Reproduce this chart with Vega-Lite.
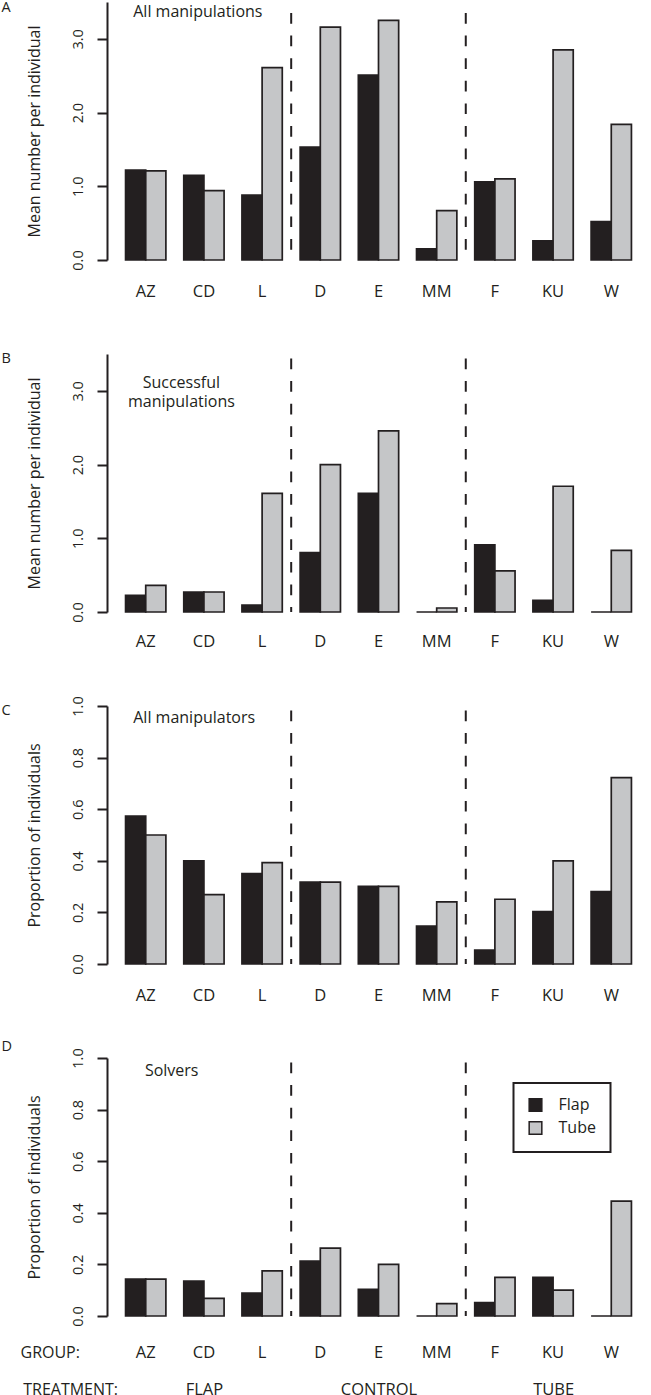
{
  "$schema": "https://vega.github.io/schema/vega-lite/v6.json",
  "padding": {"left": 1, "top": 0, "right": 0, "bottom": 0},
  "background": "white",
  "datasets": {
    "bars": [
      {"panel": "A", "group": "AZ", "type": "Flap", "value": 1.22},
      {"panel": "A", "group": "AZ", "type": "Tube", "value": 1.21},
      {"panel": "A", "group": "CD", "type": "Flap", "value": 1.15},
      {"panel": "A", "group": "CD", "type": "Tube", "value": 0.94},
      {"panel": "A", "group": "L", "type": "Flap", "value": 0.88},
      {"panel": "A", "group": "L", "type": "Tube", "value": 2.61},
      {"panel": "A", "group": "D", "type": "Flap", "value": 1.53},
      {"panel": "A", "group": "D", "type": "Tube", "value": 3.16},
      {"panel": "A", "group": "E", "type": "Flap", "value": 2.51},
      {"panel": "A", "group": "E", "type": "Tube", "value": 3.25},
      {"panel": "A", "group": "MM", "type": "Flap", "value": 0.15},
      {"panel": "A", "group": "MM", "type": "Tube", "value": 0.67},
      {"panel": "A", "group": "F", "type": "Flap", "value": 1.06},
      {"panel": "A", "group": "F", "type": "Tube", "value": 1.10},
      {"panel": "A", "group": "KU", "type": "Flap", "value": 0.26},
      {"panel": "A", "group": "KU", "type": "Tube", "value": 2.85},
      {"panel": "A", "group": "W", "type": "Flap", "value": 0.52},
      {"panel": "A", "group": "W", "type": "Tube", "value": 1.84},
      {"panel": "B", "group": "AZ", "type": "Flap", "value": 0.226},
      {"panel": "B", "group": "AZ", "type": "Tube", "value": 0.362},
      {"panel": "B", "group": "CD", "type": "Flap", "value": 0.271},
      {"panel": "B", "group": "CD", "type": "Tube", "value": 0.271},
      {"panel": "B", "group": "L", "type": "Flap", "value": 0.095},
      {"panel": "B", "group": "L", "type": "Tube", "value": 1.61},
      {"panel": "B", "group": "D", "type": "Flap", "value": 0.805},
      {"panel": "B", "group": "D", "type": "Tube", "value": 2.0},
      {"panel": "B", "group": "E", "type": "Flap", "value": 1.61},
      {"panel": "B", "group": "E", "type": "Tube", "value": 2.457},
      {"panel": "B", "group": "MM", "type": "Flap", "value": 0},
      {"panel": "B", "group": "MM", "type": "Tube", "value": 0.054},
      {"panel": "B", "group": "F", "type": "Flap", "value": 0.91},
      {"panel": "B", "group": "F", "type": "Tube", "value": 0.557},
      {"panel": "B", "group": "KU", "type": "Flap", "value": 0.158},
      {"panel": "B", "group": "KU", "type": "Tube", "value": 1.706},
      {"panel": "B", "group": "W", "type": "Flap", "value": 0},
      {"panel": "B", "group": "W", "type": "Tube", "value": 0.837},
      {"panel": "C", "group": "AZ", "type": "Flap", "value": 0.573},
      {"panel": "C", "group": "AZ", "type": "Tube", "value": 0.5},
      {"panel": "C", "group": "CD", "type": "Flap", "value": 0.4},
      {"panel": "C", "group": "CD", "type": "Tube", "value": 0.269},
      {"panel": "C", "group": "L", "type": "Flap", "value": 0.35},
      {"panel": "C", "group": "L", "type": "Tube", "value": 0.393},
      {"panel": "C", "group": "D", "type": "Flap", "value": 0.317},
      {"panel": "C", "group": "D", "type": "Tube", "value": 0.317},
      {"panel": "C", "group": "E", "type": "Flap", "value": 0.301},
      {"panel": "C", "group": "E", "type": "Tube", "value": 0.301},
      {"panel": "C", "group": "MM", "type": "Flap", "value": 0.147},
      {"panel": "C", "group": "MM", "type": "Tube", "value": 0.241},
      {"panel": "C", "group": "F", "type": "Flap", "value": 0.054},
      {"panel": "C", "group": "F", "type": "Tube", "value": 0.251},
      {"panel": "C", "group": "KU", "type": "Flap", "value": 0.203},
      {"panel": "C", "group": "KU", "type": "Tube", "value": 0.4},
      {"panel": "C", "group": "W", "type": "Flap", "value": 0.281},
      {"panel": "C", "group": "W", "type": "Tube", "value": 0.722},
      {"panel": "D", "group": "AZ", "type": "Flap", "value": 0.143},
      {"panel": "D", "group": "AZ", "type": "Tube", "value": 0.143},
      {"panel": "D", "group": "CD", "type": "Flap", "value": 0.135},
      {"panel": "D", "group": "CD", "type": "Tube", "value": 0.068},
      {"panel": "D", "group": "L", "type": "Flap", "value": 0.089},
      {"panel": "D", "group": "L", "type": "Tube", "value": 0.175},
      {"panel": "D", "group": "D", "type": "Flap", "value": 0.213},
      {"panel": "D", "group": "D", "type": "Tube", "value": 0.263},
      {"panel": "D", "group": "E", "type": "Flap", "value": 0.103},
      {"panel": "D", "group": "E", "type": "Tube", "value": 0.2},
      {"panel": "D", "group": "MM", "type": "Flap", "value": 0},
      {"panel": "D", "group": "MM", "type": "Tube", "value": 0.048},
      {"panel": "D", "group": "F", "type": "Flap", "value": 0.052},
      {"panel": "D", "group": "F", "type": "Tube", "value": 0.15},
      {"panel": "D", "group": "KU", "type": "Flap", "value": 0.15},
      {"panel": "D", "group": "KU", "type": "Tube", "value": 0.1},
      {"panel": "D", "group": "W", "type": "Flap", "value": 0},
      {"panel": "D", "group": "W", "type": "Tube", "value": 0.445}
    ],
    "notes": [
      {"panel": "A", "group": "AZ", "value": 3.30, "label": "All manipulations"},
      {"panel": "B", "group": "AZ", "value": 3.04, "label": "Successful\nmanipulations"},
      {"panel": "C", "group": "AZ", "value": 0.933, "label": "All manipulators"},
      {"panel": "D", "group": "AZ", "value": 0.929, "label": "Solvers"}
    ],
    "seps": [{"group": "D"}, {"group": "F"}],
    "treat": [{"treatment": "FLAP"}, {"treatment": "CONTROL"}, {"treatment": "TUBE"}]
  },
  "spacing": 94,
  "bounds": "flush",
  "resolve": {"scale": {"color": "independent"}, "legend": {"color": "independent"}},
  "vconcat": [
    {
      "width": 543, "height": 258,
      "title": {"text": "A", "dx": -105.5, "dy": 18.6},
      "layer": [
        {
          "data": {"name": "bars"},
          "transform": [{"filter": "datum.panel === 'A'"}],
          "mark": {"type": "bar", "stroke": "#231f20", "strokeWidth": 1.7},
          "encoding": {
            "x": {"field": "group", "type": "nominal", "scale": {"domain": ["AZ", "CD", "L", "D", "E", "MM", "F", "KU", "W"], "paddingInner": 0.307, "paddingOuter": 0.319}, "axis": {"title": null, "labelPadding": 23.7}},
            "xOffset": {"field": "type", "type": "nominal", "scale": {"paddingInner": 0, "paddingOuter": 0}},
            "y": {"field": "value", "type": "quantitative", "scale": {"domain": [0, 3.5], "nice": false}, "axis": {"title": "Mean number per individual", "values": [0, 0.5, 1, 1.5, 2, 2.5, 3, 3.5], "labelExpr": "datum.value % 1 === 0 ? format(datum.value, '.1f') : ''"}},
            "color": {"field": "type", "type": "nominal", "scale": {"domain": ["Flap", "Tube"], "range": ["#231f20", "#c5c6c8"]}, "legend": null}
          }
        },
        {
          "data": {"name": "seps"},
          "mark": {"type": "rule", "color": "#231f20", "strokeWidth": 2, "strokeDash": [10.7, 11.9], "strokeDashOffset": 11.6},
          "encoding": {"x": {"field": "group", "type": "nominal", "bandPosition": -0.222}}
        },
        {
          "data": {"name": "notes"},
          "transform": [{"filter": "datum.panel === 'A'"}],
          "mark": {"type": "text", "align": "left", "baseline": "alphabetic", "fontSize": 16, "color": "#231f20", "lineBreak": "\n", "lineHeight": 19.5},
          "encoding": {"x": {"field": "group", "type": "nominal", "bandPosition": 0.19}, "y": {"field": "value", "type": "quantitative"}, "text": {"field": "label"}}
        }
      ]
    },
    {
      "width": 543, "height": 258,
      "title": {"text": "B", "dx": -105.5, "dy": 17},
      "layer": [
        {
          "data": {"name": "bars"},
          "transform": [{"filter": "datum.panel === 'B'"}],
          "mark": {"type": "bar", "stroke": "#231f20", "strokeWidth": 1.7},
          "encoding": {
            "x": {"field": "group", "type": "nominal", "scale": {"domain": ["AZ", "CD", "L", "D", "E", "MM", "F", "KU", "W"], "paddingInner": 0.307, "paddingOuter": 0.319}, "axis": {"title": null, "labelPadding": 21}},
            "xOffset": {"field": "type", "type": "nominal", "scale": {"paddingInner": 0, "paddingOuter": 0}},
            "y": {"field": "value", "type": "quantitative", "scale": {"domain": [0, 3.5], "nice": false}, "axis": {"title": "Mean number per individual", "values": [0, 0.5, 1, 1.5, 2, 2.5, 3, 3.5], "labelExpr": "datum.value % 1 === 0 ? format(datum.value, '.1f') : ''"}},
            "color": {"field": "type", "type": "nominal", "scale": {"domain": ["Flap", "Tube"], "range": ["#231f20", "#c5c6c8"]}, "legend": null}
          }
        },
        {
          "data": {"name": "seps"},
          "mark": {"type": "rule", "color": "#231f20", "strokeWidth": 2, "strokeDash": [10.7, 11.9], "strokeDashOffset": 18.1},
          "encoding": {"x": {"field": "group", "type": "nominal", "bandPosition": -0.222}}
        },
        {
          "data": {"name": "notes"},
          "transform": [{"filter": "datum.panel === 'B'"}],
          "mark": {"type": "text", "align": "center", "baseline": "alphabetic", "fontSize": 16, "color": "#231f20", "lineBreak": "\n", "lineHeight": 19.5},
          "encoding": {"x": {"field": "group", "type": "nominal", "bandPosition": 1.384}, "y": {"field": "value", "type": "quantitative"}, "text": {"field": "label"}}
        }
      ]
    },
    {
      "width": 543, "height": 258,
      "title": {"text": "C", "dx": -105.5, "dy": 26.3},
      "layer": [
        {
          "data": {"name": "bars"},
          "transform": [{"filter": "datum.panel === 'C'"}],
          "mark": {"type": "bar", "stroke": "#231f20", "strokeWidth": 1.7},
          "encoding": {
            "x": {"field": "group", "type": "nominal", "scale": {"domain": ["AZ", "CD", "L", "D", "E", "MM", "F", "KU", "W"], "paddingInner": 0.307, "paddingOuter": 0.319}, "axis": {"title": null, "labelPadding": 23}},
            "xOffset": {"field": "type", "type": "nominal", "scale": {"paddingInner": 0, "paddingOuter": 0}},
            "y": {"field": "value", "type": "quantitative", "scale": {"domain": [0, 1], "nice": false}, "axis": {"title": "Proportion of individuals", "values": [0, 0.2, 0.4, 0.6, 0.8, 1], "labelExpr": "format(datum.value, '.1f')"}},
            "color": {"field": "type", "type": "nominal", "scale": {"domain": ["Flap", "Tube"], "range": ["#231f20", "#c5c6c8"]}, "legend": null}
          }
        },
        {
          "data": {"name": "seps"},
          "mark": {"type": "rule", "color": "#231f20", "strokeWidth": 2, "strokeDash": [10.7, 11.9], "strokeDashOffset": 18.1},
          "encoding": {"x": {"field": "group", "type": "nominal", "bandPosition": -0.222}}
        },
        {
          "data": {"name": "notes"},
          "transform": [{"filter": "datum.panel === 'C'"}],
          "mark": {"type": "text", "align": "left", "baseline": "alphabetic", "fontSize": 16, "color": "#231f20"},
          "encoding": {"x": {"field": "group", "type": "nominal", "bandPosition": 0.19}, "y": {"field": "value", "type": "quantitative"}, "text": {"field": "label"}}
        }
      ]
    },
    {
      "width": 543, "height": 258,
      "title": {"text": "D", "dx": -105.5, "dy": 10.5},
      "resolve": {"scale": {"x": "independent"}, "axis": {"x": "independent"}},
      "layer": [
        {
          "layer": [
            {
              "data": {"name": "bars"},
              "transform": [{"filter": "datum.panel === 'D'"}],
              "mark": {"type": "bar", "stroke": "#231f20", "strokeWidth": 1.7},
              "encoding": {
                "x": {"field": "group", "type": "nominal", "scale": {"domain": ["AZ", "CD", "L", "D", "E", "MM", "F", "KU", "W"], "paddingInner": 0.307, "paddingOuter": 0.319}, "axis": {"orient": "bottom", "labelPadding": 28.7, "title": "GROUP:", "titleX": -87, "titleY": 28.8, "titleAlign": "left", "titleBaseline": "top", "titleAngle": 0, "titleFontSize": 16}},
                "xOffset": {"field": "type", "type": "nominal", "scale": {"paddingInner": 0, "paddingOuter": 0}},
                "y": {"field": "value", "type": "quantitative", "scale": {"domain": [0, 1], "nice": false}, "axis": {"title": "Proportion of individuals", "values": [0, 0.2, 0.4, 0.6, 0.8, 1], "labelExpr": "format(datum.value, '.1f')"}},
                "color": {"field": "type", "type": "nominal", "scale": {"domain": ["Flap", "Tube"], "range": ["#231f20", "#c5c6c8"]}, "legend": {"title": null, "orient": "none", "legendX": 406.5, "legendY": 25, "strokeColor": "#231f20", "padding": 14, "symbolType": "square", "symbolSize": 160, "symbolStrokeColor": "#231f20", "symbolStrokeWidth": 1.5, "symbolOpacity": 1, "labelFontSize": 16, "labelFont": "Open Sans", "labelColor": "#231f20", "labelOffset": 15, "rowPadding": 3}}
              }
            },
            {
              "data": {"name": "seps"},
              "mark": {"type": "rule", "color": "#231f20", "strokeWidth": 2, "strokeDash": [10.7, 11.9], "strokeDashOffset": 18.1},
              "encoding": {"x": {"field": "group", "type": "nominal", "bandPosition": -0.222}}
            },
            {
              "data": {"name": "notes"},
              "transform": [{"filter": "datum.panel === 'D'"}],
              "mark": {"type": "text", "align": "left", "baseline": "alphabetic", "fontSize": 16, "color": "#231f20"},
              "encoding": {"x": {"field": "group", "type": "nominal", "bandPosition": 0.48}, "y": {"field": "value", "type": "quantitative"}, "text": {"field": "label"}}
            }
          ]
        },
        {
          "data": {"name": "treat"},
          "mark": {"type": "point", "opacity": 0},
          "encoding": {
            "x": {"field": "treatment", "type": "nominal", "scale": {"type": "point", "domain": ["FLAP", "CONTROL", "TUBE"], "padding": 0.555}, "axis": {"orient": "bottom", "labelPadding": 65.5, "title": "TREATMENT:", "titleX": -84.3, "titleY": 65.5, "titleAlign": "left", "titleBaseline": "top", "titleAngle": 0, "titleFontSize": 16}}
          }
        }
      ]
    }
  ],
  "config": {
    "font": "Open Sans",
    "view": {"stroke": null},
    "title": {"font": "Open Sans", "fontSize": 14.5, "fontWeight": "normal", "anchor": "start", "frame": "group", "color": "#231f20", "offset": 0, "baseline": "top"},
    "axis": {"labelFont": "Open Sans", "titleFont": "Open Sans", "labelColor": "#231f20", "titleColor": "#231f20", "titleFontWeight": "normal", "grid": false, "domainColor": "#231f20", "tickColor": "#231f20"},
    "axisX": {"domain": false, "ticks": false, "tickSize": 0, "labelAngle": 0, "labelFontSize": 16.5, "labelBaseline": "top", "labelOverlap": false},
    "axisY": {"domainWidth": 2, "tickWidth": 2, "tickSize": 10, "labelAngle": 270, "labelAlign": "center", "labelBaseline": "bottom", "labelFontSize": 14.5, "labelPadding": 12, "labelFlush": false, "labelOverlap": false, "labelBound": false, "titleFontSize": 16, "titlePadding": 28},
    "legend": {"strokeWidth": 2, "labelFont": "Open Sans"}
  }
}
